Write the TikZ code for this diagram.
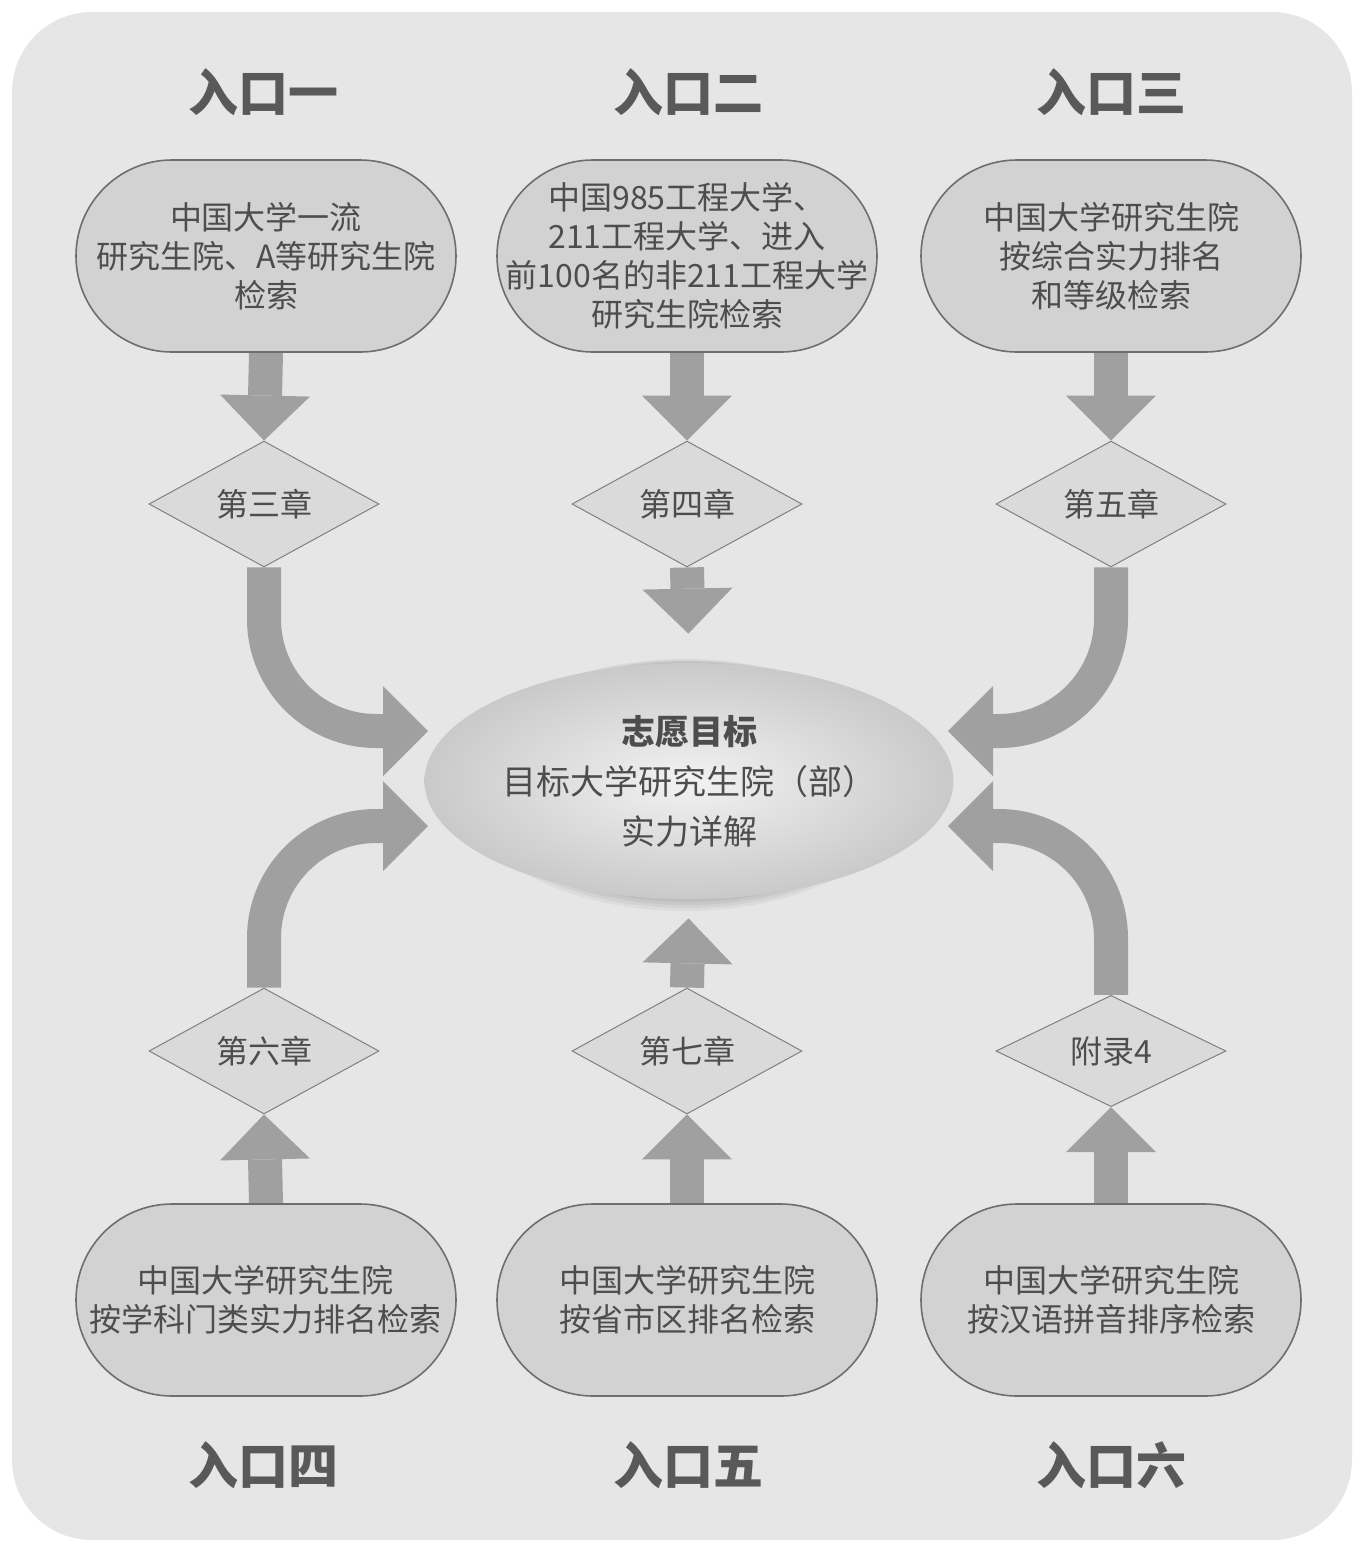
\documentclass[tikz,border=0pt]{standalone}
\usepackage{fontspec}
\setmainfont{Noto Sans CJK SC}
\usetikzlibrary{shapes.geometric,arrows.meta,backgrounds}
\definecolor{pagebg}{HTML}{E6E6E6}
\definecolor{boxfill}{HTML}{D2D2D2}
\definecolor{boxline}{HTML}{6E6E6E}
\definecolor{diafill}{HTML}{DADADA}
\definecolor{dialine}{HTML}{808080}
\definecolor{arrowgray}{HTML}{A0A0A0}
\definecolor{txtgray}{HTML}{4D4D4D}
\definecolor{headgray}{HTML}{595959}
\begin{document}
\begin{tikzpicture}[x=0.5pt,y=-0.5pt,
  entrybox/.style={draw=boxline, line width=0.8pt, fill=boxfill, rounded corners=48pt,
    minimum width=190pt, minimum height=96pt, align=center, text=txtgray,
    font=\fontsize{16}{19.5}\selectfont, inner sep=2pt},
  chapbox/.style={diamond, draw=dialine, line width=0.5pt, fill=diafill,
    minimum width=115pt, minimum height=54pt, inner sep=0pt, text=txtgray,
    font=\fontsize{16}{19}\selectfont},
  headtxt/.style={text=headgray, font=\fontsize{25}{28}\selectfont\bfseries},
  blockarrow/.style={draw=arrowgray, line width=17pt,
    -{Triangle[width=45pt,length=22.5pt,line width=0pt]}},
  curvearrow/.style={blockarrow, rounded corners=56pt},
  shadowring/.style={fill=black, fill opacity=0.045, draw=none}
]
\useasboundingbox (0,0) rectangle (1364,1544);

% headings
\node[headtxt] (h1) at (263,92) {入口一};
\node[headtxt] (h2) at (688,92) {入口二};
\node[headtxt] (h3) at (1111,92) {入口三};
\node[headtxt] (h4) at (263,1465) {入口四};
\node[headtxt] (h5) at (688,1465) {入口五};
\node[headtxt] (h6) at (1111,1465) {入口六};

% entry boxes
\node[entrybox] (b1) at (266,256) {中国大学一流\\研究生院、A等研究生院\\检索};
\node[entrybox] (b2) at (687,256) {中国985工程大学、\\211工程大学、进入\\前100名的非211工程大学\\研究生院检索};
\node[entrybox] (b3) at (1111,256) {中国大学研究生院\\按综合实力排名\\和等级检索};
\node[entrybox] (b4) at (266,1300) {中国大学研究生院\\按学科门类实力排名检索};
\node[entrybox] (b5) at (687,1300) {中国大学研究生院\\按省市区排名检索};
\node[entrybox] (b6) at (1111,1300) {中国大学研究生院\\按汉语拼音排序检索};

% chapter diamonds
\node[chapbox] (d1) at (264,504) {第三章};
\node[chapbox] (d2) at (687,504) {第四章};
\node[chapbox] (d3) at (1111,504) {第五章};
\node[chapbox] (d4) at (264,1051) {第六章};
\node[chapbox] (d5) at (687,1051) {第七章};
\node[chapbox] (d6) at (1111,1051) {附录4};

% central ellipse
\node[ellipse, minimum width=214pt, minimum height=118pt, inner sep=0pt,
  inner color=white!95!black, outer color=white!79!black, shade,
  align=center, text=txtgray, font=\fontsize{17}{25}\selectfont] (e) at (689,781)
  {\textbf{志愿目标}\\目标大学研究生院（部）\\实力详解};

% arrow tip points beside the ellipse
\coordinate (t1) at (428,731);
\coordinate (t2) at (428,826);
\coordinate (t3) at (948,731);
\coordinate (t4) at (948,826);

\begin{scope}[on background layer]
  \fill[pagebg, rounded corners=40pt] (12,12) rectangle (1352,1540);
  % soft shadow of the central ellipse
  \fill[shadowring] (685,785) ellipse [x radius=224, y radius=126];
  \fill[shadowring] (686,784) ellipse [x radius=222, y radius=124];
  \fill[shadowring] (687,783) ellipse [x radius=220, y radius=122];
  \fill[shadowring] (688,782) ellipse [x radius=218, y radius=120];
  \draw[blockarrow] (b1.south) -- (d1.north);
  \draw[blockarrow] (b2.south) -- (d2.north);
  \draw[blockarrow] (b3.south) -- (d3.north);
  \draw[blockarrow, shorten >=14.5pt] (d2.south) -- (e.north);
  \draw[blockarrow] (b4.north) -- (d4.south);
  \draw[blockarrow] (b5.north) -- (d5.south);
  \draw[blockarrow] (b6.north) -- (d6.south);
  \draw[blockarrow, shorten >=9.5pt] (d5.north) -- (e.south);
  \draw[curvearrow] (d1.south) |- (t1);
  \draw[curvearrow] (d4.north) |- (t2);
  \draw[curvearrow] (d3.south) |- (t3);
  \draw[curvearrow] (d6.north) |- (t4);
\end{scope}
\end{tikzpicture}
\end{document}
